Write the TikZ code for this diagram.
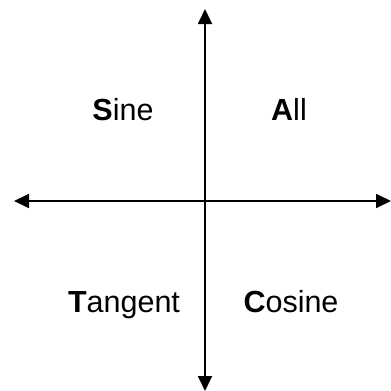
\documentclass[tikz,border=0pt]{standalone}
\usepackage{fontspec}
\setmainfont{Liberation Sans}
\usetikzlibrary{arrows.meta}
\tikzset{
  axisline/.style={line width=1.8pt, {Triangle[length=15pt,width=14pt]}-{Triangle[length=15pt,width=14pt]}},
  quad/.style={anchor=base, inner sep=0pt, font=\fontsize{30.5}{36}\selectfont}
}
\begin{document}
\begin{tikzpicture}[x=1pt,y=-1pt]
  \useasboundingbox (0,0) rectangle (391,391);
  \coordinate (L) at (14,201);
  \coordinate (R) at (391,201);
  \coordinate (T) at (205,9);
  \coordinate (B) at (205,391);
  \draw[axisline] (L) -- (R);
  \draw[axisline] (B) -- (T);
  \node[quad] (sine) at (123,120) {\textbf{S}ine};
  \node[quad] (all) at (289,120) {\textbf{A}ll};
  \node[quad] (tan) at (124,312) {\textbf{T}angent};
  \node[quad] (cos) at (291,312) {\textbf{C}osine};
\end{tikzpicture}
\end{document}
